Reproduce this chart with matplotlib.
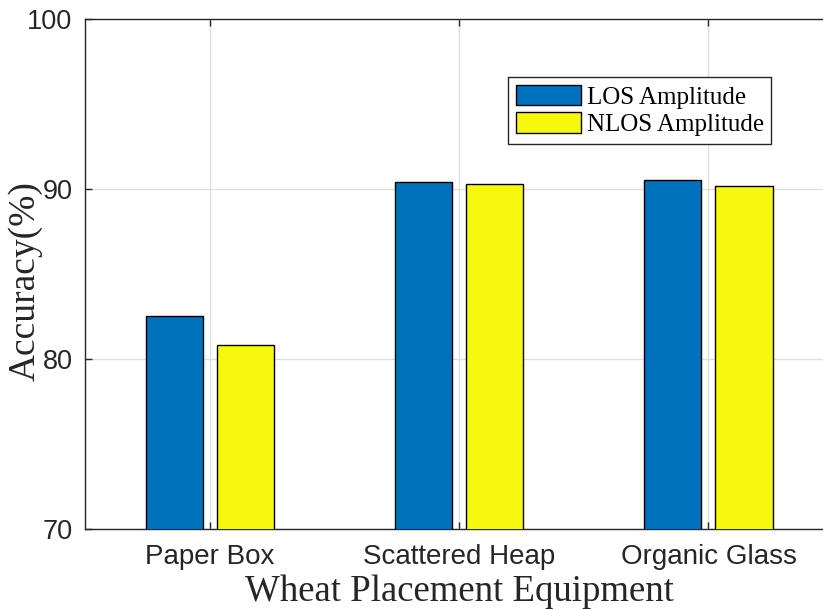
"""Classification accuracy by wheat placement equipment, LOS vs NLOS amplitude."""

import matplotlib

matplotlib.use("Agg")
import matplotlib.pyplot as plt
import numpy as np

categories = ["Paper Box", "Scattered Heap", "Organic Glass"]
los_acc = [82.5, 90.4, 90.5]
nlos_acc = [80.8, 90.3, 90.2]
series_labels = ["LOS Amplitude", "NLOS Amplitude"]

y_ticks = [70, 80, 90, 100]

BLUE = "#0072BD"
YELLOW = "#F6F90D"
AX_COLOR = "#262626"
SANS = ["Liberation Sans", "DejaVu Sans"]
SERIF = ["Liberation Serif", "DejaVu Serif"]

fig = plt.figure(figsize=(8.23, 6.10), dpi=100)
ax = fig.add_axes([0.1033, 0.1328, 0.909, 0.8361])

x = np.arange(1, len(categories) + 1)
width = 0.229
offset = 0.1426
ax.bar(x - offset, los_acc, width, color=BLUE, edgecolor="black",
       linewidth=1.0, label=series_labels[0], zorder=3)
ax.bar(x + offset, nlos_acc, width, color=YELLOW, edgecolor="black",
       linewidth=1.0, label=series_labels[1], zorder=3)

ax.set_xlim(0.5, 3.5)
ax.set_ylim(70, 100)
ax.set_xticks(x)
ax.set_xticklabels(categories, fontfamily=SANS, fontsize=20)
ax.set_yticks(y_ticks)
ax.set_yticklabels([str(v) for v in y_ticks], fontfamily=SANS, fontsize=19.5)

ax.grid(True, color="#DFDFDF", linewidth=1.0, zorder=0)
ax.set_axisbelow(True)
ax.tick_params(direction="in", length=5, width=1.0, color=AX_COLOR,
               labelcolor=AX_COLOR, top=True, right=True, pad=9)
ax.tick_params(axis="x", pad=11)
for side in ("left", "bottom", "top", "right"):
    ax.spines[side].set_color(AX_COLOR)
    ax.spines[side].set_linewidth(1.0)

ax.set_xlabel("Wheat Placement Equipment", fontfamily=SERIF, fontsize=26.5,
              color=AX_COLOR)
ax.xaxis.set_label_coords(0.5, -0.089)
ax.set_ylabel("Accuracy(%)", fontfamily=SERIF, fontsize=27, color=AX_COLOR)
ax.yaxis.set_label_coords(-0.057, 0.486)

leg = ax.legend(loc="upper left", bbox_to_anchor=(0.5655, 0.886),
                prop={"family": SERIF, "size": 18}, frameon=True,
                fancybox=False, edgecolor=AX_COLOR, framealpha=1,
                handlelength=2.6, handleheight=0.9, handletextpad=0.25,
                borderpad=0.3, labelspacing=0.15, borderaxespad=0)
leg.get_frame().set_linewidth(1.0)

fig.savefig("out.png", dpi=100)
plt.close(fig)
